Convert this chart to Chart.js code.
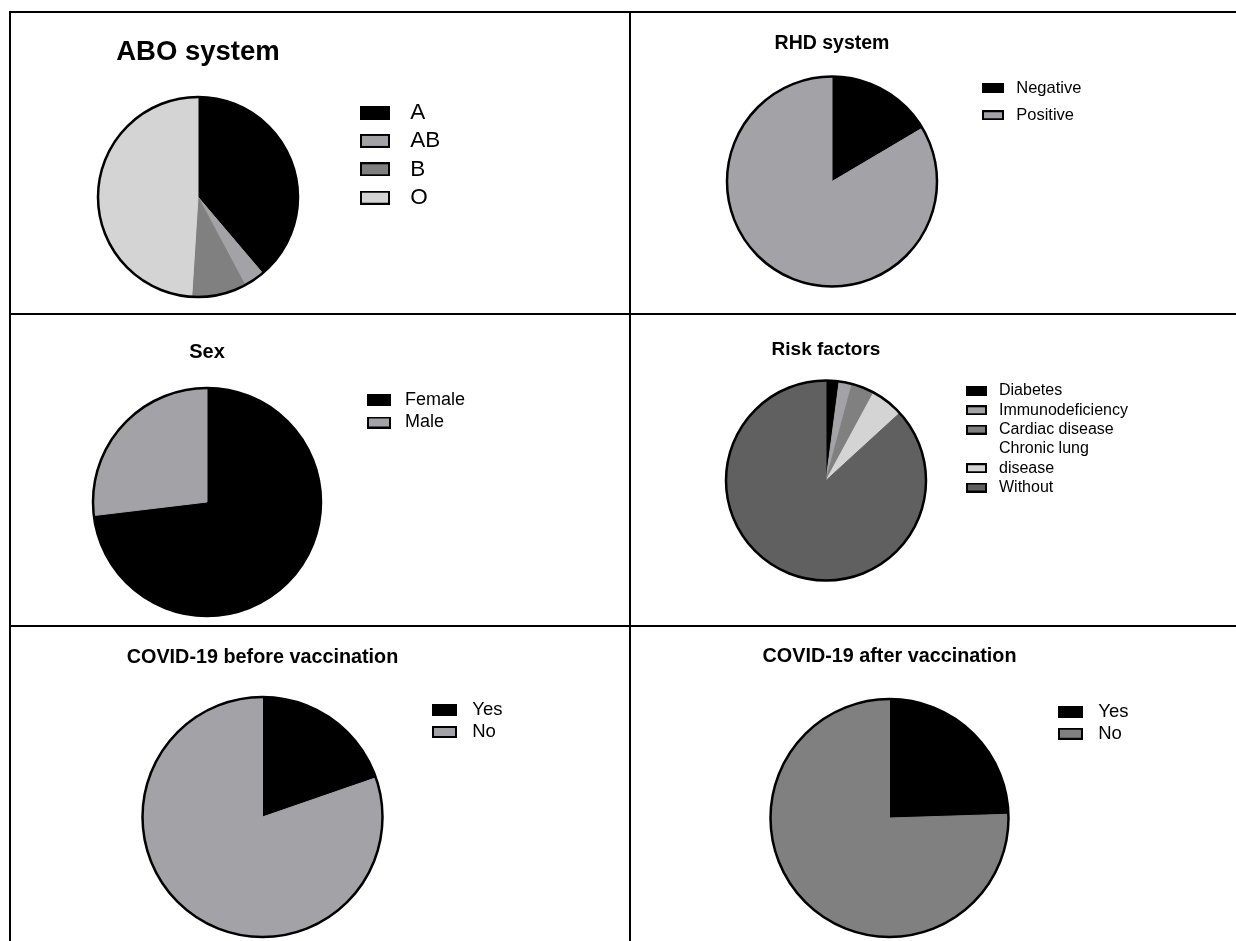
<!DOCTYPE html>
<html>
<head>
<meta charset="utf-8">
<title>Study population characteristics</title>
<script src="https://cdn.jsdelivr.net/npm/chart.js@4.4.1/dist/chart.umd.min.js"></script>
<style>
  html, body { margin: 0; padding: 0; background: #fff; }
  #sheet { position: relative; width: 1236px; height: 941px; overflow: hidden; background: #fff; }
  .rule { position: absolute; background: #000; }
  #sheet canvas { position: absolute; }
</style>
</head>
<body>
<div id="sheet">
  <div class="rule" style="left:9px;top:11px;width:1227px;height:2px"></div>
  <div class="rule" style="left:9px;top:11px;width:2px;height:930px"></div>
  <div class="rule" style="left:629px;top:11px;width:2px;height:930px"></div>
  <div class="rule" style="left:9px;top:313px;width:1227px;height:2px"></div>
  <div class="rule" style="left:9px;top:625px;width:1227px;height:2px"></div>
</div>
<script>
// ---- data (percent of participants) ----
const aboLabels = ['A', 'AB', 'B', 'O'];
const aboValues = [38.8, 3.4, 8.8, 49.0];

const rhdLabels = ['Negative', 'Positive'];
const rhdValues = [16.5, 83.5];

const sexLabels = ['Female', 'Male'];
const sexValues = [73.1, 26.9];

const riskLabels = ['Diabetes', 'Immunodeficiency', 'Cardiac disease', 'Chronic lung disease', 'Without'];
const riskValues = [2.1, 2.1, 3.7, 5.3, 86.8];
// legend text as it wraps in the key
const riskLegendLines = ['Diabetes', 'Immunodeficiency', 'Cardiac disease', ['Chronic lung', 'disease'], 'Without'];

const covidBeforeLabels = ['Yes', 'No'];
const covidBeforeValues = [19.7, 80.3];

const covidAfterLabels = ['Yes', 'No'];
const covidAfterValues = [24.5, 75.5];

// ---- styling ----
const FONT = "'Liberation Sans', Arial, Helvetica, sans-serif";
const BLACK = '#000000';
const LIGHT = '#a3a2a7';
const MID = '#808080';
const PALE = '#d4d4d4';
const DARK = '#606060';

const sheet = document.getElementById('sheet');

// swatch used as the legend marker: filled box with a black frame
function swatch(color, slotW, bw, bh) {
  const c = document.createElement('canvas');
  c.width = slotW; c.height = bh;
  const g = c.getContext('2d');
  g.fillStyle = color;
  g.fillRect(0, 0, bw, bh);
  g.strokeStyle = '#000';
  g.lineWidth = 2;
  g.strokeRect(1, 1, bw - 2, bh - 2);
  return c;
}
const blankMarker = (() => { const c = document.createElement('canvas'); c.width = 1; c.height = 1; return c; })();

// black rim around the whole pie (no lines between slices)
const pieOutline = {
  id: 'pieOutline',
  afterDatasetsDraw(chart) {
    const arc = chart.getDatasetMeta(0).data[0];
    if (!arc) return;
    const ctx = chart.ctx;
    ctx.save();
    ctx.beginPath();
    ctx.arc(arc.x, arc.y, arc.outerRadius, 0, Math.PI * 2);
    ctx.lineWidth = 2.5;
    ctx.strokeStyle = '#000';
    ctx.stroke();
    ctx.restore();
  }
};

// puts the key beside the pie
const legendPlacer = {
  id: 'legendPlacer',
  afterLayout(chart, args, opts) {
    const lg = chart.legend;
    if (!lg || opts.x === undefined) return;
    const w = lg.width, h = lg.height;
    lg.left = opts.x - opts.pad;
    lg.top = opts.y - opts.fs / 2 - opts.pad;
    lg.right = lg.left + w;
    lg.bottom = lg.top + h;
  }
};

function makePanel(cfg) {
  const cell = cfg.cell;
  const canvas = document.createElement('canvas');
  canvas.width = cell.w;
  canvas.height = cell.h;
  canvas.style.left = cell.x + 'px';
  canvas.style.top = cell.y + 'px';
  sheet.appendChild(canvas);

  // layout padding that centres the chart area on the pie centre
  const lcx = cfg.cx - cell.x, lcy = cfg.cy - cell.y;
  let padL = 0, padR = 0;
  if (2 * lcx <= cell.w) padR = cell.w - 2 * lcx; else padL = 2 * lcx - cell.w;
  const lh = cfg.titleSize * 1.2;
  const tY = cfg.titleY - cell.y;
  const titleTop = tY - lh / 2;
  const tb = tY + lh / 2;
  const diff = 2 * lcy - tb - cell.h;
  const titleBottom = diff > 0 ? diff : 0;
  const padB = diff > 0 ? 0 : -diff;

  const L = cfg.legend;
  const slotW = Math.round(L.textX - L.boxX - L.fs / 2);
  const pad = L.step - L.fs;
  const lines = cfg.legendLines || cfg.labels;
  const markers = cfg.colors.map(col => swatch(col, slotW, L.bw, L.bh));

  return new Chart(canvas, {
    type: 'pie',
    data: {
      labels: cfg.labels,
      datasets: [{
        data: cfg.values,
        backgroundColor: cfg.colors,
        borderColor: cfg.colors,
        borderWidth: 1,
        hoverOffset: 0
      }]
    },
    options: {
      responsive: false,
      animation: false,
      events: [],
      radius: cfg.r,
      layout: { padding: { left: padL, right: padR, top: 0, bottom: padB } },
      plugins: {
        title: {
          display: true,
          text: cfg.title,
          color: '#000',
          font: { family: FONT, size: cfg.titleSize, weight: 'bold', lineHeight: 1.2 },
          padding: { top: titleTop, bottom: titleBottom }
        },
        legend: {
          display: true,
          position: 'chartArea',
          align: 'start',
          labels: {
            usePointStyle: true,
            pointStyleWidth: slotW,
            boxHeight: L.bh,
            padding: pad,
            color: '#000',
            font: { family: FONT, size: L.fs },
            generateLabels(chart) {
              const items = [];
              lines.forEach((t, i) => {
                const parts = Array.isArray(t) ? t : [t];
                parts.forEach((line, k) => {
                  const last = k === parts.length - 1;
                  items.push({
                    text: line,
                    fillStyle: cfg.colors[i],
                    strokeStyle: '#000',
                    lineWidth: 0,
                    fontColor: '#000',
                    hidden: false,
                    index: i,
                    pointStyle: last ? markers[i] : blankMarker
                  });
                });
              });
              return items;
            }
          }
        },
        tooltip: { enabled: false },
        legendPlacer: { x: L.boxX - cell.x, y: L.firstY - cell.y, fs: L.fs, pad: pad }
      }
    },
    plugins: [pieOutline, legendPlacer]
  });
}

// ---- the six panels ----
makePanel({
  cell: { x: 11, y: 13, w: 618, h: 300 },
  title: 'ABO system', titleSize: 27.5, titleY: 52,
  cx: 198, cy: 197, r: 100,
  labels: aboLabels, values: aboValues, colors: [BLACK, LIGHT, MID, PALE],
  legend: { boxX: 360, textX: 410, fs: 22.5, bw: 30, bh: 14, firstY: 112.5, step: 28.4 }
});

makePanel({
  cell: { x: 631, y: 13, w: 605, h: 300 },
  title: 'RHD system', titleSize: 19.5, titleY: 43.5,
  cx: 832, cy: 181.5, r: 105,
  labels: rhdLabels, values: rhdValues, colors: [BLACK, LIGHT],
  legend: { boxX: 982, textX: 1016, fs: 16.5, bw: 22, bh: 10, firstY: 88, step: 27.2 }
});

makePanel({
  cell: { x: 11, y: 315, w: 618, h: 310 },
  title: 'Sex', titleSize: 20, titleY: 352.5,
  cx: 207, cy: 502, r: 114,
  labels: sexLabels, values: sexValues, colors: [BLACK, LIGHT],
  legend: { boxX: 367, textX: 405, fs: 18, bw: 24, bh: 12, firstY: 400, step: 22.5 }
});

makePanel({
  cell: { x: 631, y: 315, w: 605, h: 310 },
  title: 'Risk factors', titleSize: 19, titleY: 349.5,
  cx: 826, cy: 480.5, r: 100,
  labels: riskLabels, legendLines: riskLegendLines, values: riskValues,
  colors: [BLACK, LIGHT, MID, PALE, DARK],
  legend: { boxX: 966, textX: 999, fs: 16, bw: 21, bh: 10, firstY: 391, step: 19.3 }
});

makePanel({
  cell: { x: 11, y: 627, w: 618, h: 314 },
  title: 'COVID-19 before vaccination', titleSize: 19.8, titleY: 658,
  cx: 262.5, cy: 817, r: 120,
  labels: covidBeforeLabels, values: covidBeforeValues, colors: [BLACK, LIGHT],
  legend: { boxX: 432, textX: 472, fs: 18.5, bw: 25, bh: 12, firstY: 709.5, step: 22.5 }
});

makePanel({
  cell: { x: 631, y: 627, w: 605, h: 314 },
  title: 'COVID-19 after vaccination', titleSize: 19.8, titleY: 657,
  cx: 889.5, cy: 818, r: 119,
  labels: covidAfterLabels, values: covidAfterValues, colors: [BLACK, MID],
  legend: { boxX: 1058, textX: 1098, fs: 18.5, bw: 25, bh: 12, firstY: 711.5, step: 22.2 }
});
</script>
</body>
</html>
